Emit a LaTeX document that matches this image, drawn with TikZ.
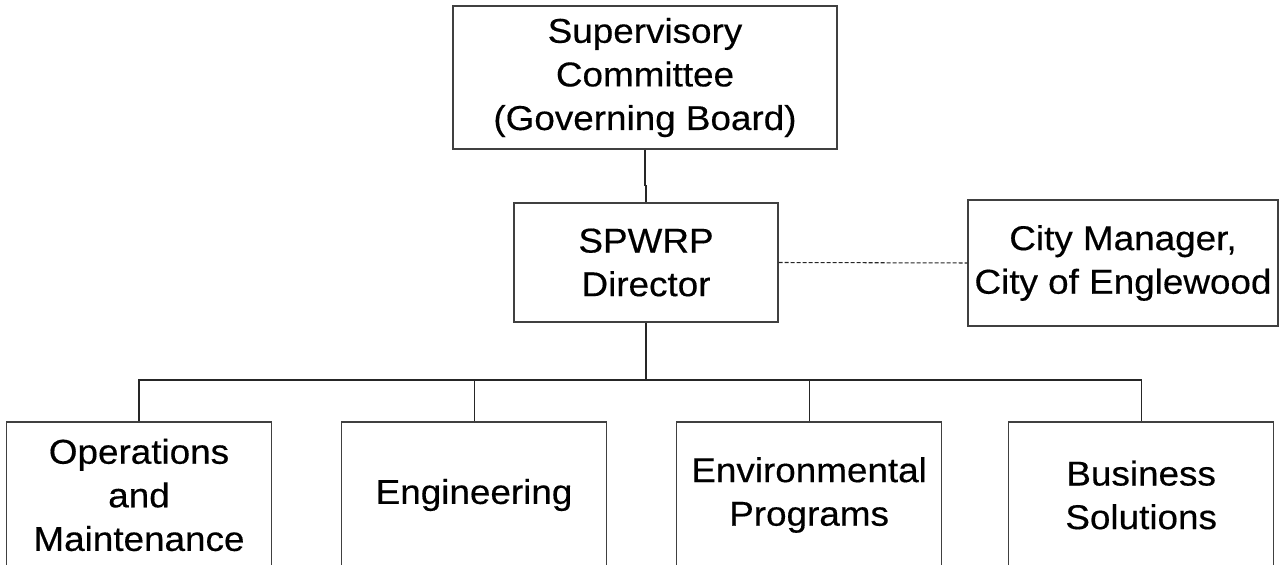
\documentclass[tikz,border=0pt]{standalone}
\usepackage{fontspec}
\setmainfont{Liberation Sans}[FakeStretch=1.07, FakeBold=0.4]
\usetikzlibrary{positioning, calc}

\begin{document}
\begin{tikzpicture}[
		unit/.style={draw=black!75, line width=0.6pt, align=center, inner sep=0pt, font=\fontsize{19.6}{24.8}\selectfont},
		dept/.style={unit, minimum width=5.3cm, minimum height=2.92cm},
		link/.style={draw=black!85, line width=0.6pt},
		node distance=1.38cm]
	\useasboundingbox (0,0) rectangle (25.72,-11.3);
	\node[unit, minimum width=7.68cm, minimum height=2.86cm] (board) at (12.9,-1.55) {Supervisory\\Committee\\(Governing Board)};
	\node[unit, minimum width=5.28cm, minimum height=2.38cm] (director) at (12.92,-5.25) {SPWRP\\Director};
	\node[unit, minimum width=6.2cm, minimum height=2.52cm] (manager) at (22.46,-5.26) {City Manager,\\City of Englewood};
	\node[dept] (ops) at (2.78,-9.9) {Operations\\and\\Maintenance};
	\node[dept, right=of ops] (eng) {Engineering};
	\node[dept, right=of eng] (env) {Environmental\\Programs};
	\node[dept, right=1.32cm of env] (biz) {Business\\Solutions};
	\coordinate (bus) at (12.92,-7.6);
	\draw[link] (board.south) -- ++(0,-0.72) -| (director.north);
	\draw[link, dash pattern=on 0.08cm off 0.04cm] (director.east) -- (manager.west);
	\draw[link] (director.south) -- (bus);
	\foreach \d in {ops,eng,env,biz}
		\draw[link] (\d.north) |- (bus);
\end{tikzpicture}
\end{document}
